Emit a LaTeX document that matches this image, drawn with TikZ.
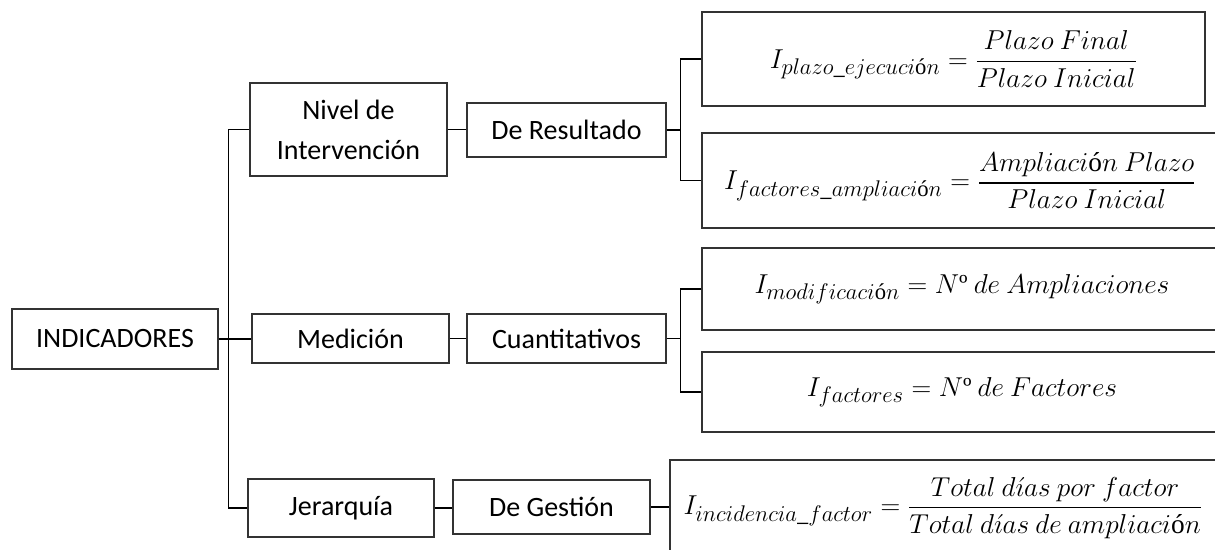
\RequirePackage{fix-cm}
\documentclass[tikz,border=0pt]{standalone}
\usepackage{amsmath}
\usepackage{fontspec}
\setmainfont{Carlito}
\newfontfamily\serifup{Liberation Serif}
\newcommand{\us}{\text{\_}}
\newcommand{\oa}{\text{\serifup ó}}
\newcommand{\numo}{N\text{\serifup º}}
\newcommand{\sbx}[1]{\mbox{\fontsize{17}{20}\selectfont$#1$}}
\begin{document}
\begin{tikzpicture}[x=0.75pt,y=-0.75pt,
  box/.style={draw=black!80, line width=0.9pt, inner sep=0pt, align=center,
    font=\fontsize{21}{30}\selectfont},
  fbox/.style={draw=black!80, line width=0.9pt, inner sep=0pt,
    font=\fontsize{20.5}{24}\selectfont},
  conn/.style={line width=1.3pt, draw=black}]
\useasboundingbox (0,0) rectangle (1215,550);
% first level
\node[box, minimum width=154.5pt, minimum height=45pt] (ind) at (115,339) {INDICADORES};
% second level
\node[box, minimum width=147.75pt, minimum height=69.75pt] (niv) at (348.5,129.5) {Nivel de\\Intervención};
\node[box, minimum width=147.75pt, minimum height=36.75pt] (med) at (350.5,338.5) {Medición};
\node[box, minimum width=139.5pt, minimum height=43.5pt] (jer) at (341,508) {Jerarquía};
% third level
\node[box, minimum width=149.25pt, minimum height=40.5pt] (res) at (566.5,130) {De Resultado};
\node[box, minimum width=149.25pt, minimum height=36.75pt] (cua) at (566.5,338.5) {Cuantitativos};
\node[box, minimum width=147.75pt, minimum height=40.5pt] (ges) at (551.5,507) {De Gestión};
% formulas
\node[fbox, minimum width=377.25pt, minimum height=70.5pt] (f1) at (953.5,59)
  {$I_{\sbx{plazo\us ejecuci\oa n}}=\dfrac{Plazo\ Final}{Plazo\ Inicial}$};
\node[fbox, minimum width=387pt, minimum height=71.25pt] (f2) at (960,180.5)
  {$I_{\sbx{factores\us ampliaci\oa n}}=\dfrac{Ampliaci\oa n\ Plazo}{Plazo\ Inicial}$};
\node[fbox, minimum width=390pt, minimum height=61.5pt] (f3) at (962,289)
  {$I_{\sbx{modificaci\oa n}}=\numo\ de\ Ampliaciones$};
\node[fbox, minimum width=390pt, minimum height=60pt] (f4) at (962,392)
  {$I_{\sbx{factores}}=\numo\ de\ Factores$};
\node[fbox, minimum width=409.5pt, minimum height=72pt] (f5) at (943,508)
  {$I_{\sbx{incidencia\us factor}}=\dfrac{Total\ d\acute{\imath}as\ por\ factor}{Total\ d\acute{\imath}as\ de\ ampliaci\oa n}$};
% connectors
\draw[conn] (ind.east) -- (ind.east -| med.west);
\path (niv.west) ++(-21,0) coordinate (sp);
\draw[conn] (niv.west) -- (sp) |- (jer.west);
\draw[conn] (niv.east) -- (niv.east -| res.west);
\draw[conn] (med.east) -- (med.east -| cua.west);
\draw[conn] (jer.east) -- (jer.east -| ges.west);
\path (f1.west) ++(-21,0) coordinate (j1);
\draw[conn] (f1.west) -- (j1) |- (f2.west);
\draw[conn] (res.east) -- (res.east -| j1);
\path (f3.west) ++(-21,0) coordinate (j2);
\draw[conn] (f3.west) -- (j2) |- (f4.west);
\draw[conn] (cua.east) -- (cua.east -| j2);
\draw[conn] (ges.east) -- (ges.east -| f5.west);
\end{tikzpicture}
\end{document}
